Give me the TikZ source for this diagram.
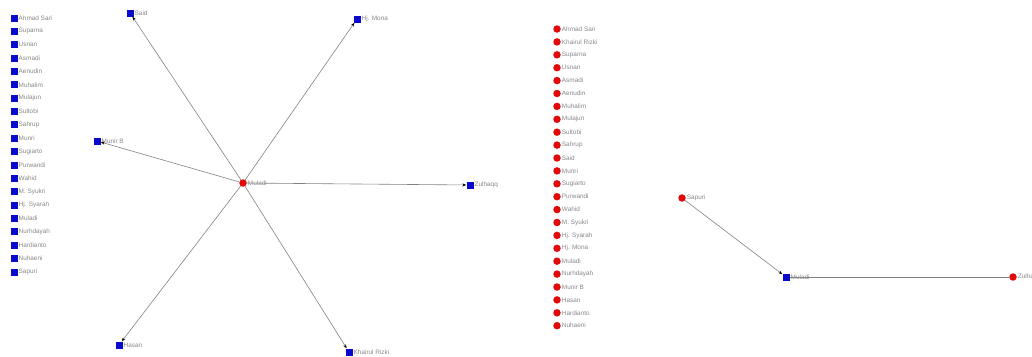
\documentclass[tikz,border=0pt]{standalone}
\usepackage{fontspec}
\setmainfont{Liberation Sans}
\usepackage{xcolor}
\usepackage{tikz}
\usetikzlibrary{positioning, arrows.meta}

\definecolor{actorblue}{RGB}{10,10,205}
\definecolor{personred}{RGB}{225,10,10}
\definecolor{edgegray}{RGB}{130,130,130}
\definecolor{namegray}{RGB}{135,135,135}

\tikzset{
	actor/.style={fill=actorblue, inner sep=0pt, minimum size=7pt},
	person/.style={circle, fill=personred, inner sep=0pt, minimum size=7.5pt},
	tag/.style={label={[text=namegray, font=\fontsize{6.4}{7}\selectfont, inner sep=0.8pt]right:#1}},
	tie/.style={draw=edgegray, line width=0.6pt},
	tiearrow/.style={tie, -{Stealth[length=4pt, width=3pt, black]}}
}

\begin{document}
\begin{tikzpicture}[x=1pt, y=-1pt]
	\useasboundingbox (0,0) rectangle (1032,356);

	% Left list of actors
	\foreach \nm [count=\i] in {Ahmad Sari, Suparna, Usnan, Asmadi, Aenudin, Muhalim, Mulajun, Sultobi, Sahrup, Munri, Sugiarto, Purwandi, Wahid, M. Syukri, Hj. Syarah, Muladi, Nurhdayah, Hardianto, Nuhaeni, Sapuri}
		\node[actor, tag=\nm] (la\i) at (14, 18+13.37*\i-13.37) {};

	% Star around Muladi
	\node[person, tag=Muladi] (muladi) at (243,183) {};
	\node[actor, tag=Said] (said) at (130,13) {};
	\node[actor, tag={Hj. Mona}] (mona) at (357,19) {};
	\node[actor, tag={Munir B}] (munirb) at (97,141) {};
	\node[actor, tag=Zulhaqq] (zulhaqq) at (470,185) {};
	\node[actor, tag=Hasan] (hasan) at (119,345) {};
	\node[actor, tag={Khairul Rizki}] (khairul) at (349,352) {};

	\draw[tiearrow] (muladi) -- (said);
	\draw[tiearrow] (muladi) -- (mona);
	\draw[tiearrow] (muladi) -- (munirb);
	\draw[tiearrow] (muladi) -- (zulhaqq);
	\draw[tiearrow] (muladi) -- (hasan);
	\draw[tiearrow] (muladi) -- (khairul);

	% Right list of persons
	\foreach \nm [count=\i] in {Ahmad Sari, Khairul Rizki, Suparna, Usnan, Asmadi, Aenudin, Muhalim, Mulajun, Sultobi, Sahrup, Said, Munri, Sugiarto, Purwandi, Wahid, M. Syukri, Hj. Syarah, Hj. Mona, Muladi, Nurhdayah, Munir B, Hasan, Hardianto, Nuhaeni}
		\node[person, tag=\nm] (rp\i) at (557, 29+12.9*\i-12.9) {};

	% Small chain
	\node[person, tag=Sapuri] (sapuri) at (682,198) {};
	\node[actor, tag=Muladi] (muladi2) at (786,277) {};
	\node[person, tag=Zulhaqq] (zulhaqq2) at (1013,277) {};

	\draw[tiearrow] (sapuri) -- (muladi2);
	\draw[tie] (muladi2) -- (zulhaqq2);
\end{tikzpicture}
\end{document}
